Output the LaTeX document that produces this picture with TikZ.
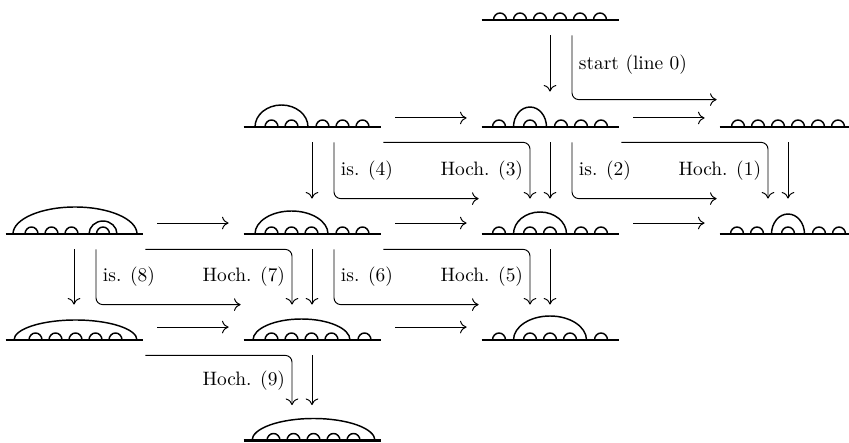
\documentclass[tikz,border=0pt]{standalone}
\usetikzlibrary{arrows.meta,calc}

\tikzset{
  diag/.style={minimum width=85.5pt, minimum height=25.75pt, inner sep=0pt},
  groundline/.style={line width=1.1pt},
  arcline/.style={line width=0.75pt},
  link/.style={-{To[length=3.4pt,width=6.5pt]}, line width=0.5pt},
  bent/.style={link, rounded corners=3.5pt},
}

% ground line of diagram #1 and its small arcs, #2 = left ends
\newcommand{\groundleaves}[2]{%
  \draw[groundline] ($(#1.center)+(-68.5,-10)$) -- ($(#1.center)+(68.5,-10)$);
  \foreach \x in {#2}
    \draw[arcline] ($(#1.center)+(\x,-10)$) arc[start angle=180, end angle=0, x radius=6.5, y radius=7];
}
% wider arcs of diagram #1, #2 = left end/x radius/y radius
\newcommand{\bigarcs}[2]{%
  \foreach \x/\rx/\ry in {#2}
    \draw[arcline] ($(#1.center)+(\x,-10)$) arc[start angle=180, end angle=0, x radius=\rx, y radius=\ry];
}

\begin{document}
\begin{tikzpicture}[x=0.515pt, y=0.515pt]
  \useasboundingbox (0,0) rectangle (849,442);
  \clip (0,0) rectangle (849,442);

  % diagrams, one node each
  \node[diag] (a2) at (550,432) {};
  \node[diag] (b1) at (312,325) {};
  \node[diag] (b2) at (550,325) {};
  \node[diag] (b3) at (788,325) {};
  \node[diag] (c0) at (74,218) {};
  \node[diag] (c1) at (312,218) {};
  \node[diag] (c2) at (550,218) {};
  \node[diag] (c3) at (788,218) {};
  \node[diag] (d0) at (74,112) {};
  \node[diag] (d1) at (312,112) {};
  \node[diag] (d2) at (550,112) {};
  \node[diag] (e1) at (312,11.5) {};

  \groundleaves{a2}{-56.5,-36.5,-16.5,3.5,23.5,43.5}
  \groundleaves{b1}{-47,-27,4,24,44}
  \bigarcs{b1}{-57/26.5/22}
  \groundleaves{b2}{-57.5,-26.5,4.5,24.5,44.5}
  \bigarcs{b2}{-36.5/16.5/20}
  \groundleaves{b3}{-56.5,-36.5,-16.5,3.5,23.5,43.5}
  \groundleaves{c0}{-49,-29,-9,22.5}
  \bigarcs{c0}{-61/62/27, 15/14/13}
  \groundleaves{c1}{-47,-27,-7,24,44}
  \bigarcs{c1}{-57/36.5/23}
  \groundleaves{c2}{-57.5,-26.5,-6.5,24.5,44.5}
  \bigarcs{c2}{-36.5/26.5/22}
  \groundleaves{c3}{-57.5,-37.5,-6.5,24.5,44.5}
  \bigarcs{c3}{-16.5/16.5/20}
  \groundleaves{d0}{-45,-25,-5,15,35}
  \bigarcs{d0}{-60/61.5/20}
  \groundleaves{d1}{-47,-27,-7,13,46}
  \bigarcs{d1}{-59/48.5/21}
  \groundleaves{d2}{-57.5,-26.5,-6.5,13.5,44.5}
  \bigarcs{d2}{-36.5/36.5/24}
  \groundleaves{e1}{-45,-25,-5,15,35}
  \bigarcs{e1}{-60/61.5/22}

  % straight steps
  \foreach \u/\v in {a2/b2, b1/c1, b2/c2, b3/c3, c0/d0, c1/d1, c2/d2, d1/e1}
    \draw[link] (\u.south) -- (\v.north);
  \foreach \u/\v in {b1/b2, b2/b3}
    \draw[link] ([yshift=-0.5pt]\u.east) -- ([yshift=-0.5pt]\v.west);
  \foreach \u/\v in {c0/c1, c1/c2, c2/c3}
    \draw[link] ([yshift=0.5pt]\u.east) -- ([yshift=0.5pt]\v.west);
  \foreach \u/\v in {d0/d1, d1/d2}
    \draw[link] ([yshift=1.5pt]\u.east) -- ([yshift=1.5pt]\v.west);

  % start and insertion steps
  \draw[bent] ($(a2.south)+(22,0)$) |- ($(b3.north west)+(12,-8)$) node[pos=0.23,right] {start (line 0)};
  \draw[bent] ($(b2.south)+(22,0)$) |- ($(c3.north west)+(12,0)$) node[pos=0.25,right] {is. (2)};
  \draw[bent] ($(b1.south)+(22,0)$) |- ($(c2.north west)+(12,0)$) node[pos=0.25,right] {is. (4)};
  \draw[bent] ($(c1.south)+(22,0)$) |- ($(d2.north west)+(12,0)$) node[pos=0.25,right] {is. (6)};
  \draw[bent] ($(c0.south)+(22,0)$) |- ($(d1.north west)+(12,0)$) node[pos=0.25,right] {is. (8)};

  % lifting steps
  \draw[bent] ($(b2.south east)+(-12,0)$) -| ($(c3.north)+(-20,0)$) node[pos=0.75,left] {Hoch. (1)};
  \draw[bent] ($(b1.south east)+(-12,0)$) -| ($(c2.north)+(-20,0)$) node[pos=0.75,left] {Hoch. (3)};
  \draw[bent] ($(c1.south east)+(-12,0)$) -| ($(d2.north)+(-20,0)$) node[pos=0.75,left] {Hoch. (5)};
  \draw[bent] ($(c0.south east)+(-12,0)$) -| ($(d1.north)+(-20,0)$) node[pos=0.75,left] {Hoch. (7)};
  \draw[bent] ($(d0.south east)+(-12,0)$) -| ($(e1.north)+(-20,0)$) node[pos=0.75,left] {Hoch. (9)};
\end{tikzpicture}
\end{document}
